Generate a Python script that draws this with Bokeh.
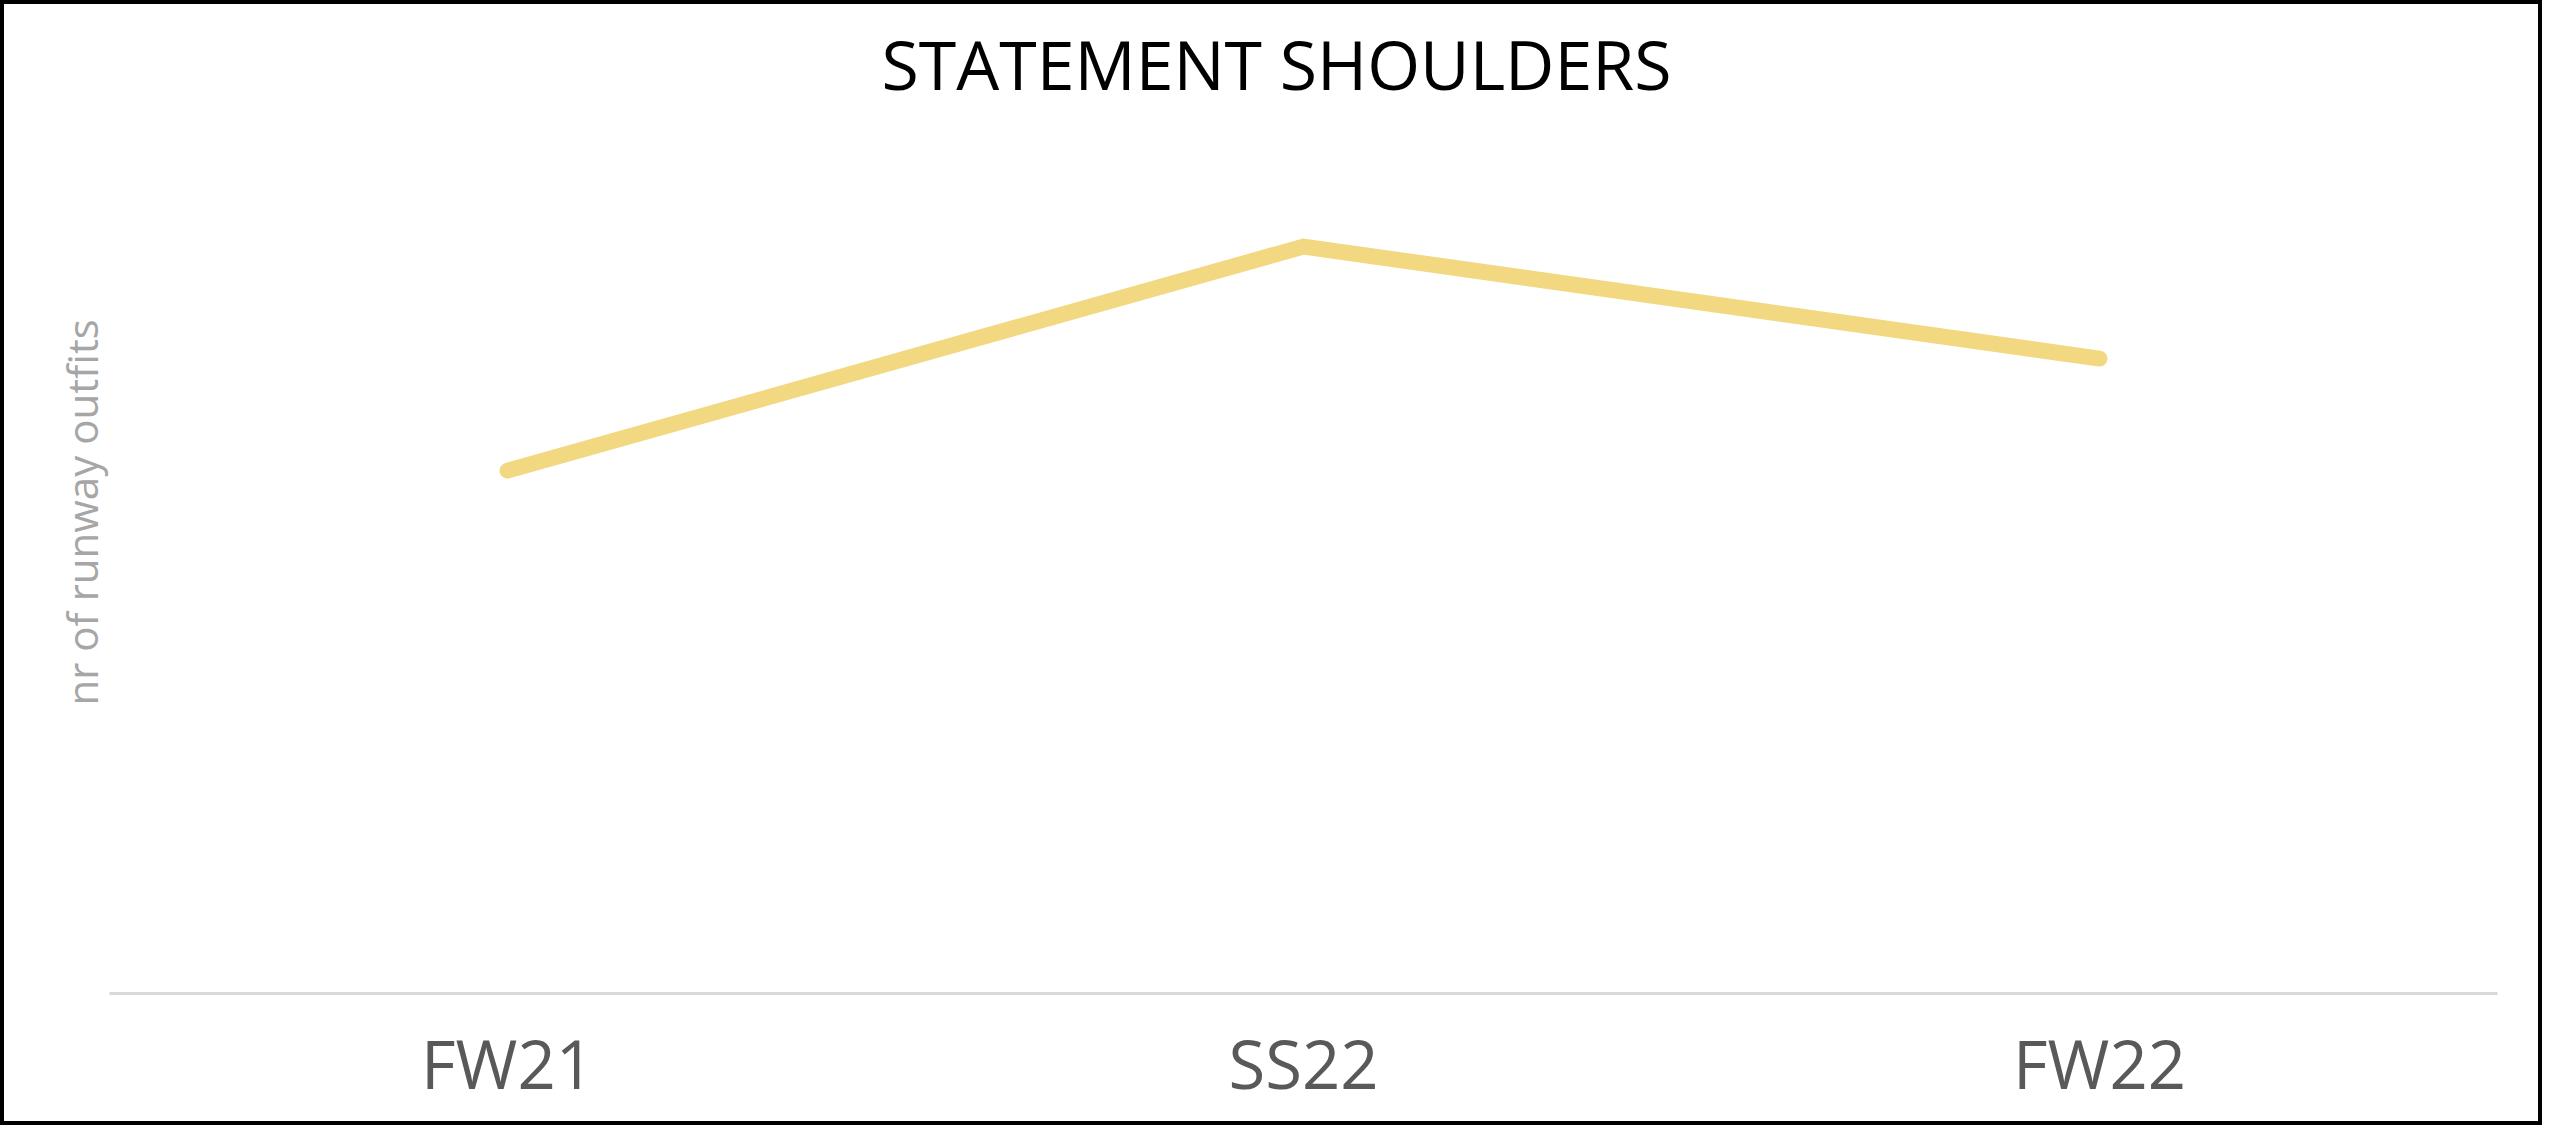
from bokeh.plotting import figure
from bokeh.models import FactorRange, Range1d, Title
from bokeh.embed import file_html
from bokeh.resources import INLINE

seasons = ["FW21", "SS22", "FW22"]
outfits = [14, 20, 17]

p = figure(
    x_range=FactorRange(*seasons, range_padding=0),
    y_range=Range1d(0, 23.67),
    width=2542, height=1125,
    output_backend="svg", toolbar_location=None,
    y_axis_location=None,
    min_border_left=105, min_border_right=49,
    min_border_bottom=136, min_border_top=105,
)
p.styles = {"border": "4px solid black"}
p.background_fill_color = "white"
p.border_fill_color = "white"
p.outline_line_color = None
p.grid.visible = False

p.title.text = "STATEMENT SHOULDERS"
p.title.align = "left"
p.title.offset = 772
p.title.standoff = 0
p.title.text_font = "Open Sans"
p.title.text_font_size = "68px"
p.title.text_font_style = "normal"
p.title.text_color = "black"

ylab = Title(text="nr of runway outfits", align="left", offset=288, standoff=0,
             text_font="Open Sans", text_font_size="42px", text_font_style="normal",
             text_color="#a6a6a6")
p.add_layout(ylab, "left")

p.line(x=seasons, y=outfits, line_color="#f2d881", line_width=16, line_cap="round", line_join="miter")

ax = p.xaxis[0]
ax.axis_line_color = "#d9d9d9"
ax.axis_line_width = 3
ax.major_tick_line_color = None
ax.minor_tick_line_color = None
ax.major_label_text_font = "Open Sans"
ax.major_label_text_font_size = "67px"
ax.major_label_text_color = "#595959"
ax.major_label_standoff = 17

open("out.html", "w").write(file_html(p, INLINE))
